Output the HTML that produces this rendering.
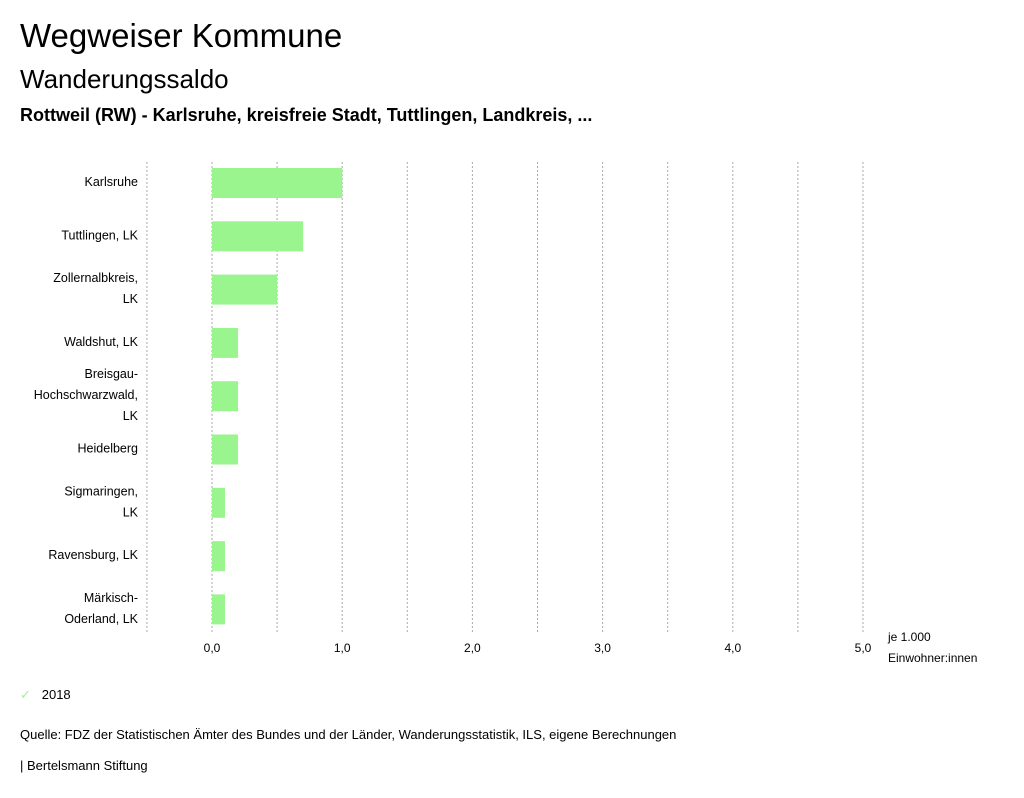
<!DOCTYPE html>
<html><head><meta charset="utf-8"><style>
body{margin:0;background:#fff;width:1024px;height:798px;overflow:hidden;font-family:"Liberation Sans",sans-serif;color:#000}
.t{position:absolute;left:20px;white-space:nowrap}
</style></head><body>
<div class="t" style="top:17px;font-size:33px">Wegweiser Kommune</div>
<div class="t" style="top:64px;font-size:26px">Wanderungssaldo</div>
<div class="t" style="top:105px;font-size:18px;font-weight:bold">Rottweil (RW) - Karlsruhe, kreisfreie Stadt, Tuttlingen, Landkreis, ...</div>
<svg id="chart" width="1024" height="798" style="position:absolute;left:0;top:0"></svg>
<div class="t" style="top:687px;font-size:13px"><span style="color:#9af58f">✓</span>&nbsp;&nbsp;&nbsp;2018</div>
<div class="t" style="top:727px;font-size:13px">Quelle: FDZ der Statistischen Ämter des Bundes und der Länder, Wanderungsstatistik, ILS, eigene Berechnungen</div>
<div class="t" style="top:758px;font-size:13px">| Bertelsmann Stiftung</div>
<script>
const categories=[["Karlsruhe"],["Tuttlingen, LK"],["Zollernalbkreis,","LK"],["Waldshut, LK"],["Breisgau-","Hochschwarzwald,","LK"],["Heidelberg"],["Sigmaringen,","LK"],["Ravensburg, LK"],["Märkisch-","Oderland, LK"]];
const values=[1.0,0.7,0.5,0.2,0.2,0.2,0.1,0.1,0.1];
const ticks=[0,1,2,3,4,5];
const tickLabels=["0,0","1,0","2,0","3,0","4,0","5,0"];
const svg=document.getElementById('chart');
const NS="http://www.w3.org/2000/svg";
const x=v=>212+v*130.2;
const band=53.3,top0=183-band/2;
function mk(t,a){const e=document.createElementNS(NS,t);for(const k in a)e.setAttribute(k,a[k]);svg.appendChild(e);return e;}
for(let g=-0.5;g<=5.0001;g+=0.5){
 const l=mk('line',{x1:x(g),x2:x(g),y1:162,y2:632,stroke:'#aaa','stroke-dasharray':'2,2','stroke-width':1});
 
 
}
ticks.forEach((t,i)=>{
 const e=mk('text',{x:x(t),y:652,'text-anchor':'middle','font-size':12,'font-family':'Liberation Sans'});
 e.textContent=tickLabels[i];
 
 
});
["je 1.000","Einwohner:innen"].forEach((s,i)=>{
 const e=mk('text',{x:888,y:641+i*21,'font-size':12,'font-family':'Liberation Sans'});
 e.textContent=s;
 
 
});
categories.forEach((c,i)=>{
 const cy=top0+band*(i+0.5);
 const r=mk('rect',{x:x(0),y:cy-15,width:x(values[i])-x(0),height:30,fill:'#9af58f'});
 
 
 const y0=cy-(c.length-1)*10.5+3;
 c.forEach((s,j)=>{
  const e=mk('text',{x:138,y:y0+j*21,'text-anchor':'end','font-size':12.5,'font-family':'Liberation Sans'});
  e.textContent=s;
  
  
 });
});
</script>
</body></html>
